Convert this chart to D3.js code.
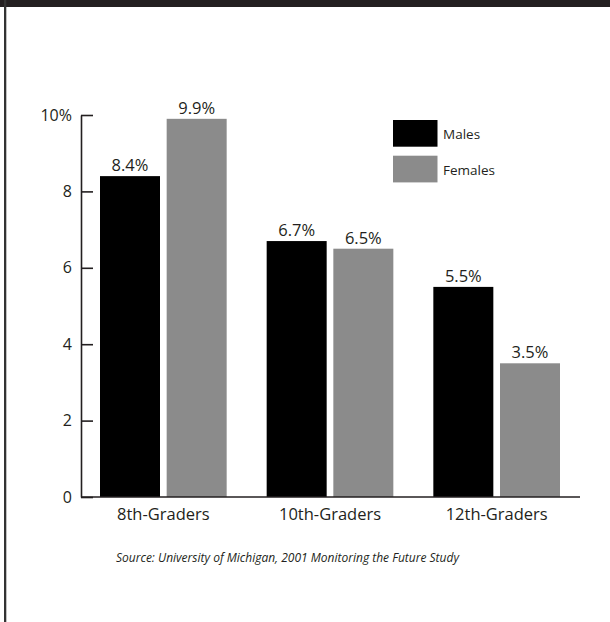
<!DOCTYPE html>
<html><head><meta charset="utf-8">
<script src="https://cdn.jsdelivr.net/npm/d3@7"></script>
<style>
html,body{margin:0;padding:0;background:#fff;}
svg{display:block;font-family:"Open Sans",sans-serif;}
</style></head>
<body>
<script>
const categories = ["8th-Graders", "10th-Graders", "12th-Graders"];
const seriesNames = ["Males", "Females"];
const males = [8.4, 6.7, 5.5];
const females = [9.9, 6.5, 3.5];
const yTicks = [0, 2, 4, 6, 8, 10];
const sourceText = "Source:  University of Michigan, 2001 Monitoring the Future Study";

const W = 610, H = 622;
const colors = {Males: "#000000", Females: "#8b8b8b"};
const ink = "#231f20";

const svg = d3.select("body").append("svg").attr("width", W).attr("height", H);

// frame
svg.append("rect").attr("x", 0).attr("y", 0).attr("width", W).attr("height", 7).attr("fill", ink);
svg.append("rect").attr("x", 4).attr("y", 0).attr("width", 2.3).attr("height", H).attr("fill", "#333");

const y = d3.scaleLinear().domain([0, 10]).range([497, 115]);
const x0 = d3.scaleBand().domain(categories).range([80, 580]).paddingInner(0.24).paddingOuter(0.12);
const x1 = d3.scaleBand().domain(seriesNames).range([0, x0.bandwidth()]).paddingInner(0.1).paddingOuter(0);

const data = categories.map((c, i) => ({cat: c, values: [{k: "Males", v: males[i]}, {k: "Females", v: females[i]}]}));

const g = svg.selectAll("g.grp").data(data).enter().append("g")
  .attr("transform", d => `translate(${x0(d.cat)},0)`);
g.selectAll("rect").data(d => d.values).enter().append("rect")
  .attr("x", d => x1(d.k)).attr("width", x1.bandwidth())
  .attr("y", d => y(d.v)).attr("height", d => y(0) - y(d.v))
  .attr("fill", d => colors[d.k]);
g.selectAll("text.val").data(d => d.values).enter().append("text")
  .attr("class", "val")
  .attr("x", d => x1(d.k) + x1.bandwidth() / 2)
  .attr("y", d => y(d.v) - 5)
  .attr("text-anchor", "middle").attr("font-size", 16.5).attr("fill", ink)
  .text(d => d.v.toFixed(1) + "%");

// y axis
const yAxis = d3.axisLeft(y).tickValues(yTicks).tickSizeInner(-12).tickSizeOuter(0).tickPadding(9)
  .tickFormat(d => d === 10 ? "10%" : String(d));
const ya = svg.append("g").attr("transform", "translate(81,0)").call(yAxis);
ya.select(".domain").attr("stroke", ink).attr("stroke-width", 1.6);
ya.selectAll(".tick line").attr("stroke", ink).attr("stroke-width", 1.6);
ya.selectAll(".tick text").attr("font-size", 16).attr("fill", ink).attr("font-family", "Open Sans, sans-serif");

// x axis
const xAxis = d3.axisBottom(x0).tickSize(0).tickPadding(11);
const xa = svg.append("g").attr("transform", `translate(0,${y(0)})`).call(xAxis);
xa.select(".domain").attr("d", `M81,0H580`).attr("stroke", ink).attr("stroke-width", 1.6);
xa.selectAll(".tick text").attr("font-size", 16.5).attr("fill", ink).attr("font-family", "Open Sans, sans-serif");

// legend
const lg = svg.append("g").attr("transform", "translate(393,120)");
const li = lg.selectAll("g").data(seriesNames).enter().append("g")
  .attr("transform", (d, i) => `translate(0,${i * 35.7})`);
li.append("rect").attr("width", 44.5).attr("height", 26.7).attr("fill", d => colors[d]);
li.append("text").attr("x", 50).attr("y", 19).attr("font-size", 13.5).attr("fill", ink).text(d => d);

// source
svg.append("text").attr("x", 116).attr("y", 562).attr("font-size", 12).attr("font-style", "italic")
  .attr("fill", ink).text(sourceText);
</script>
</body></html>
